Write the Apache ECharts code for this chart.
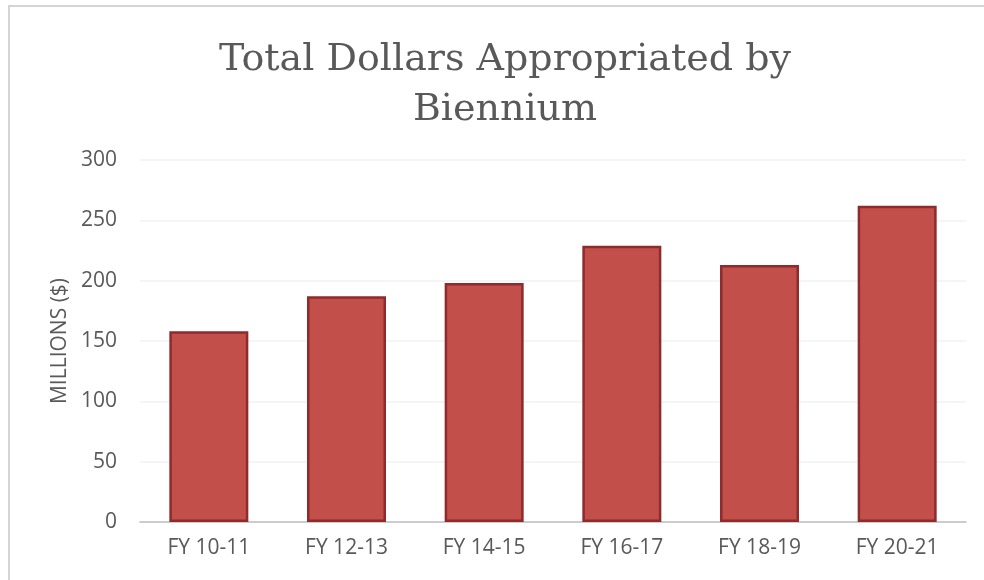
<!DOCTYPE html>
<html>
<head>
<meta charset="utf-8">
<script src="https://cdn.jsdelivr.net/npm/echarts@6/dist/echarts.min.js"></script>
<style>
  html, body { margin: 0; padding: 0; background: #ffffff; }
  #chart { width: 984px; height: 580px; }
</style>
</head>
<body>
<div id="chart"></div>
<script>
// Biennium appropriations, millions of dollars
const categories = ['FY 10-11', 'FY 12-13', 'FY 14-15', 'FY 16-17', 'FY 18-19', 'FY 20-21'];
const appropriated = [158, 187, 198, 229, 213, 262];
const yTicks = [0, 50, 100, 150, 200, 250, 300];

const textGray = '#595959';
const chart = echarts.init(document.getElementById('chart'), null, { renderer: 'canvas' });

chart.setOption({
  backgroundColor: '#ffffff',
  animation: false,
  title: {
    text: 'Total Dollars Appropriated by\nBiennium',
    left: 500,
    textAlign: 'center',
    top: 30,
    textStyle: {
      fontFamily: 'DejaVu Serif',
      fontWeight: 'normal',
      fontSize: 38,
      lineHeight: 50,
      color: textGray
    }
  },
  graphic: [
    {
      type: 'polyline',
      shape: { points: [[9, 580], [9, 6], [984, 6]] },
      style: { stroke: '#d4d4d4', lineWidth: 2, fill: null },
      silent: true
    }
  ],
  grid: { left: 140, right: 18, top: 160, bottom: 58, containLabel: false },
  xAxis: {
    type: 'category',
    data: categories,
    axisLine: { show: true, lineStyle: { color: '#bfbfbf', width: 1.5 } },
    axisTick: { show: false },
    axisLabel: {
      color: textGray,
      fontFamily: 'Open Sans',
      fontSize: 21,
      margin: 16
    },
    splitLine: { show: false }
  },
  yAxis: {
    type: 'value',
    min: yTicks[0],
    max: yTicks[yTicks.length - 1],
    interval: yTicks[1] - yTicks[0],
    name: 'MILLIONS ($)',
    nameLocation: 'middle',
    nameRotate: 90,
    nameGap: 69,
    nameTextStyle: { color: textGray, fontFamily: 'Open Sans', fontSize: 21 },
    axisLine: { show: false },
    axisTick: { show: false },
    axisLabel: {
      color: textGray,
      fontFamily: 'Open Sans',
      fontSize: 21,
      margin: 23
    },
    splitLine: { show: true, lineStyle: { color: '#f2f2f2', width: 1.5 } }
  },
  series: [
    {
      type: 'bar',
      data: appropriated,
      barWidth: 79,
      itemStyle: {
        color: '#c34f4b',
        borderColor: '#8e2b2c',
        borderWidth: 2.5
      }
    }
  ]
});
</script>
</body>
</html>
